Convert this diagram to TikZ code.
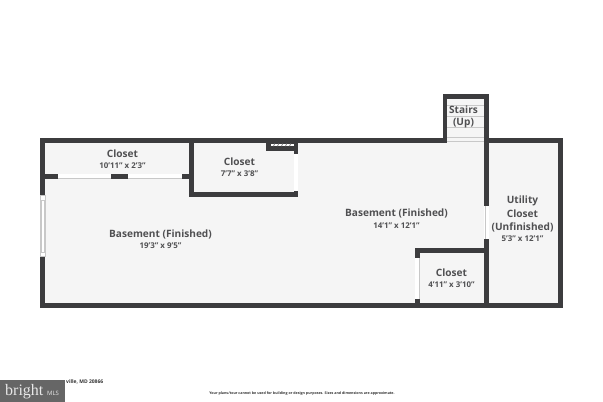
\documentclass[tikz,border=0pt]{standalone}
\usepackage{fontspec}
\setmainfont{Open Sans}
\newfontfamily\badgeserif{Liberation Serif}
\definecolor{wallc}{HTML}{3C3C3E}
\definecolor{floorc}{HTML}{F5F5F5}
\definecolor{textc}{HTML}{505052}
\definecolor{linec}{HTML}{C8C8C8}
\definecolor{badge}{HTML}{666666}
\tikzset{
  wall/.style={fill=wallc,draw=none},
  floorarea/.style={fill=floorc,draw=none},
  opening/.style={fill=white,draw=none},
  thin line/.style={draw=linec,line width=0.6pt},
  roomname/.style={font=\fontsize{10.1}{12}\selectfont\bfseries,text=textc,inner sep=0pt,align=center},
  roomsize/.style={font=\fontsize{7.9}{9}\selectfont\bfseries,text=textc,inner sep=0pt},
  fine/.style={font=\fontsize{5}{6}\selectfont\bfseries,text=black!80,inner sep=0pt}
}
\begin{document}
\begin{tikzpicture}[x=1pt,y=-1pt]
\useasboundingbox (0,0) rectangle (603,402);
\fill[white] (0,0) rectangle (603,402);
% floor
\fill[floorarea] (45,143) rectangle (558,303);
\fill[floorarea] (447,99) rectangle (484.5,143.5);
% outer walls
\fill[wall] (40.3,138.3) rectangle (442.7,143.2);
\fill[wall] (442.7,94.2) rectangle (447.4,143.2);
\fill[wall] (442.7,94.2) rectangle (489,99);
\fill[wall] (484.4,94.2) rectangle (489,307.7);
\fill[wall] (484.4,138.3) rectangle (562.7,143.2);
\fill[wall] (558,138.3) rectangle (562.7,307.7);
\fill[wall] (40.3,302.8) rectangle (562.7,307.7);
\fill[wall] (40.3,138.3) rectangle (45,307.7);
% left window
\fill[opening] (40.3,195) rectangle (45,256.7);
\draw[thin line] (40.8,200) -- (44.6,200) (41.3,200) -- (41.3,252) (43.8,200) -- (43.8,252) (40.8,252) -- (44.6,252);
\draw[thin line] (40.6,195.2) rectangle (44.8,256.5);
% top-left closet: sliding door wall
\fill[wall] (45,173.7) rectangle (189,178.7);
\fill[opening] (58.3,173.7) rectangle (110.7,178.7);
\fill[opening] (128,173.7) rectangle (181.7,178.7);
\draw[thin line] (58.3,177.8) -- (110.7,177.8) (128,177.8) -- (181.7,177.8);
% second closet
\fill[wall] (189,138.3) rectangle (193.7,197);
\fill[wall] (189,192) rectangle (298.3,197);
\fill[wall] (293.7,143) rectangle (298.3,154.3);
\fill[wall] (293.7,190.7) rectangle (298.3,197);
\fill[opening] (293.7,154.3) rectangle (298.3,190.7);
\fill[wall] (266,143) rectangle (298.3,150.7);
\fill[white] (270.7,143.6) rectangle (294,146.2);
\foreach \dx in {273.5,277.5,281.5,285.5,289.5}
  \draw[wallc!70,line width=0.7pt] (\dx,146.2) -- (\dx+1.2,143.6);
% stairs treads
\foreach \sy in {105.5,116,127,137,141}
  \draw[thin line] (447.4,\sy) -- (484.4,\sy);
% door to utility closet
\fill[opening] (484.4,206) rectangle (489,238.7);
\draw[thin line] (484.8,206) -- (484.8,238.7);
% bottom-right closet
\fill[wall] (414.7,247.7) rectangle (484.4,252.7);
\fill[wall] (414.7,247.7) rectangle (419.5,258.3);
\fill[wall] (414.7,299) rectangle (419.5,303);
\fill[opening] (414.7,258.3) rectangle (419.5,299);
\draw[thin line] (418.9,258.3) -- (418.9,299);
% labels
\node[roomname] (n1) at (122.5,154) {Closet};
\node[roomsize] (s1) at (122.5,166) {10'11" x 2'3"};
\node[roomname] (n2) at (239.5,162) {Closet};
\node[roomsize] (s2) at (239.5,174) {7'7" x 3'8"};
\node[roomname] (n3) at (160.5,234) {Basement (Finished)};
\node[roomsize] (s3) at (160.5,246) {19'3" x 9'5"};
\node[roomname] (n4) at (396.5,213.5) {Basement (Finished)};
\node[roomsize] (s4) at (396.5,225.5) {14'1" x 12'1"};
\node[roomname] (n5) at (463.5,110) {Stairs};
\node[roomname] (n6) at (463.5,123.5) {(Up)};
\node[roomname] (n7) at (522.5,200.5) {Utility};
\node[roomname] (n8) at (522.5,214) {Closet};
\node[roomname] (n9) at (522.5,227) {(Unfinished)};
\node[roomsize] (s9) at (522.5,239) {5'3" x 12'1"};
\node[roomname] (n10) at (451.5,273) {Closet};
\node[roomsize] (s10) at (451.5,285) {4'11" x 3'10"};
% footer
\fill[badge] (0,380) rectangle (65,402);
\node[inner sep=0pt,text=white!85!badge,anchor=base west,font=\fontsize{16}{17}\selectfont\badgeserif] (b) at (5,395.5) {bright};
\node[inner sep=0pt,text=white!85!badge,anchor=base west,font=\fontsize{6}{7}\selectfont] (m) at (47,395) {MLS};
\node[fine,anchor=west] (addr) at (66,382) {ville, MD 20866};
\node[fine,anchor=center,font=\fontsize{3.6}{4}\selectfont\bfseries] (disc) at (302,394) {Your plans/tour cannot be used for building or design purposes. Sizes and dimensions are approximate.};
\end{tikzpicture}
\end{document}
